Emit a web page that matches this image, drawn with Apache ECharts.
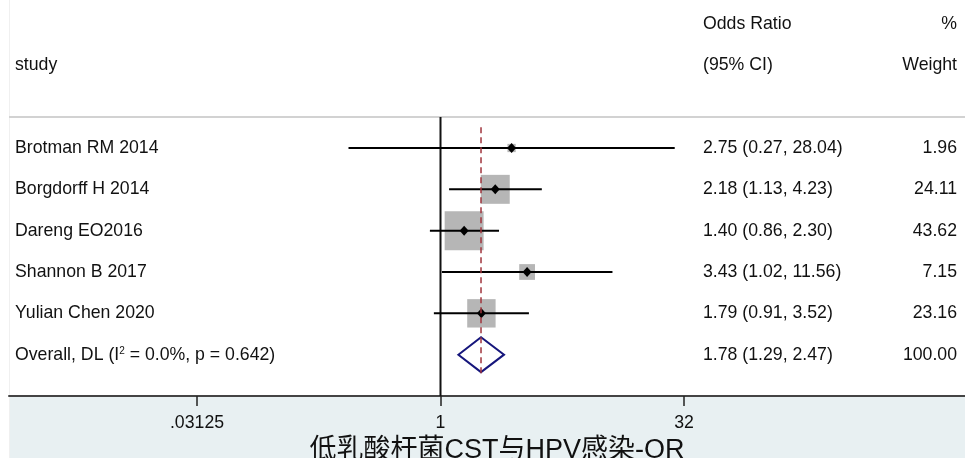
<!DOCTYPE html>
<html><head><meta charset="utf-8">
<script src="https://cdn.jsdelivr.net/npm/echarts@6/dist/echarts.min.js"></script>
<style>html,body{margin:0;padding:0;background:#fff}#c{width:965px;height:458px}</style>
</head><body><div id="c"></div>
<script>
// ---- data ----
const studies = ['Brotman RM 2014', 'Borgdorff H 2014', 'Dareng EO2016', 'Shannon B 2017', 'Yulian Chen 2020'];
const orValues = [2.75, 2.18, 1.40, 3.43, 1.79];
const ciLower = [0.27, 1.13, 0.86, 1.02, 0.91];
const ciUpper = [28.04, 4.23, 2.30, 11.56, 3.52];
const weights = [1.96, 24.11, 43.62, 7.15, 23.16];
const overallLabel = 'Overall, DL (I{sup|2} = 0.0%, p = 0.642)';
const overallOR = [1.78];
const overallLower = [1.29];
const overallUpper = [2.47];
const overallWeight = [100.00];
const tickValues = [0.03125, 1, 32];
const tickLabels = ['.03125', '1', '32'];
const axisTitle = '低乳酸杆菌CST与HPV感染-OR';
const headerStudy = ['', 'study', ''];
const headerOR = ['Odds Ratio', '(95% CI)', ''];
const headerWeight = ['%', 'Weight', ''];

// ---- layout helpers ----
const FONT = '"Liberation Sans", Arial, "Noto Sans CJK SC", sans-serif';
const FS = 17.7;
const XMIN = (9 - 440.5) / 48.7, XMAX = (965 - 440.5) / 48.7;
const FIRST_ROW = 3;
const fmt = (o, l, u) => o.toFixed(2) + ' (' + l.toFixed(2) + ', ' + u.toFixed(2) + ')';

const studyCol = headerStudy.concat(studies, [overallLabel, '']);
const orCol = headerOR.concat(studies.map((s, i) => fmt(orValues[i], ciLower[i], ciUpper[i])),
  [fmt(overallOR[0], overallLower[0], overallUpper[0]), '']);
const weightCol = headerWeight.concat(weights.map(w => w.toFixed(2)), [overallWeight[0].toFixed(2), '']);

const studyData = studies.map((s, i) => [Math.log2(orValues[i]), Math.log2(ciLower[i]), Math.log2(ciUpper[i]), FIRST_ROW + i, weights[i]]);
const overallRow = FIRST_ROW + studies.length;
const overallData = [[Math.log2(overallOR[0]), Math.log2(overallLower[0]), Math.log2(overallUpper[0]), overallRow]];
const tickLogs = tickValues.map(Math.log2);

const chart = echarts.init(document.getElementById('c'), null, {renderer: 'canvas'});

const labelBase = {fontSize: FS, color: '#111', fontFamily: FONT, interval: 0};

chart.setOption({
  animation: false,
  textStyle: {fontFamily: FONT},
  grid: {left: 9, right: 0, top: 24, bottom: 62, containLabel: false, outerBoundsMode: 'none'},
  graphic: [
    {type: 'rect', z: -10, shape: {x: 9, y: 397, width: 956, height: 61}, style: {fill: '#e8f0f2'}},
    {type: 'line', z: -10, shape: {x1: 9.5, y1: 0, x2: 9.5, y2: 458}, style: {stroke: '#f0f0f0', lineWidth: 1}}
  ],
  xAxis: {
    type: 'value', min: XMIN, max: XMAX,
    axisLine: {onZero: false, lineStyle: {color: '#444', width: 2}},
    axisTick: {show: true, customValues: tickLogs, length: 10, lineStyle: {color: '#222', width: 1.5}},
    axisLabel: {customValues: tickLogs, fontSize: FS, color: '#111', fontFamily: FONT, margin: 18,
      formatter: v => { let k = 0; tickLogs.forEach((t, i) => { if (Math.abs(t - v) < Math.abs(tickLogs[k] - v)) k = i; }); return tickLabels[k]; }},
    splitLine: {show: false},
    name: axisTitle, nameLocation: 'middle', nameGap: 38,
    nameTextStyle: {fontSize: 27, color: '#111', fontFamily: FONT, padding: [0, 0, 0, 20]}
  },
  yAxis: [
    {type: 'value', min: 0, max: 9, inverse: true, show: false},
    {type: 'category', data: studyCol, position: 'left', inverse: true, boundaryGap: false,
      axisLine: {show: false, onZero: false}, axisTick: {show: false}, splitLine: {show: false},
      axisLabel: Object.assign({}, labelBase, {inside: true, margin: 6, formatter: v => v,
        rich: {sup: {fontSize: 10, verticalAlign: 'top', color: '#111', fontFamily: FONT}}})},
    {type: 'category', data: orCol, position: 'right', offset: -270, inverse: true, boundaryGap: false,
      axisLine: {show: false, onZero: false}, axisTick: {show: false}, splitLine: {show: false},
      axisLabel: Object.assign({}, labelBase, {inside: false, margin: 8})},
    {type: 'category', data: weightCol, position: 'right', offset: 0, inverse: true, boundaryGap: false,
      axisLine: {show: false, onZero: false}, axisTick: {show: false}, splitLine: {show: false},
      axisLabel: Object.assign({}, labelBase, {inside: true, margin: 8})}
  ],
  series: [
    {type: 'line', yAxisIndex: 0, silent: true, symbol: 'none', z: 1,
      data: [[XMIN, 2.25], [XMAX, 2.25]], lineStyle: {color: '#d2d2d2', width: 2}},
    {type: 'line', yAxisIndex: 0, silent: true, symbol: 'none', z: 2,
      data: [[0, 2.25], [0, 9]], lineStyle: {color: '#111', width: 2}},
    {type: 'line', yAxisIndex: 0, silent: true, symbol: 'none', z: 5,
      data: [[Math.log2(overallOR[0]), 2.5], [Math.log2(overallOR[0]), 8.45]],
      lineStyle: {color: '#a0343c', width: 1.5, type: [6, 4]}},
    {type: 'custom', yAxisIndex: 0, silent: true, z: 3,
      encode: {x: [0, 1, 2], y: 3},
      data: studyData,
      renderItem: function (params, api) {
        const c = api.coord([api.value(0), api.value(3)]);
        const l = api.coord([api.value(1), api.value(3)]);
        const h = api.coord([api.value(2), api.value(3)]);
        const side = 5.9 * Math.sqrt(api.value(4));
        return {type: 'group', children: [
          {type: 'rect', shape: {x: c[0] - side / 2, y: c[1] - side / 2, width: side, height: side}, style: {fill: '#b6b6b6'}},
          {type: 'line', shape: {x1: l[0], y1: l[1], x2: h[0], y2: h[1]}, style: {stroke: '#000', lineWidth: 2}},
          {type: 'polygon', shape: {points: [[c[0] - 4.5, c[1]], [c[0], c[1] - 5], [c[0] + 4.5, c[1]], [c[0], c[1] + 5]]}, style: {fill: '#000'}}
        ]};
      }},
    {type: 'custom', yAxisIndex: 0, silent: true, z: 4,
      encode: {x: [0, 1, 2], y: 3},
      data: overallData,
      renderItem: function (params, api) {
        const r = api.value(3), x = api.value(0);
        const p1 = api.coord([api.value(1), r]), p2 = api.coord([x, r - 0.423]);
        const p3 = api.coord([api.value(2), r]), p4 = api.coord([x, r + 0.423]);
        return {type: 'polygon', shape: {points: [p1, p2, p3, p4]},
          style: {fill: 'none', stroke: '#16167c', lineWidth: 2, lineJoin: 'miter'}};
      }}
  ]
});
</script>
</body></html>
